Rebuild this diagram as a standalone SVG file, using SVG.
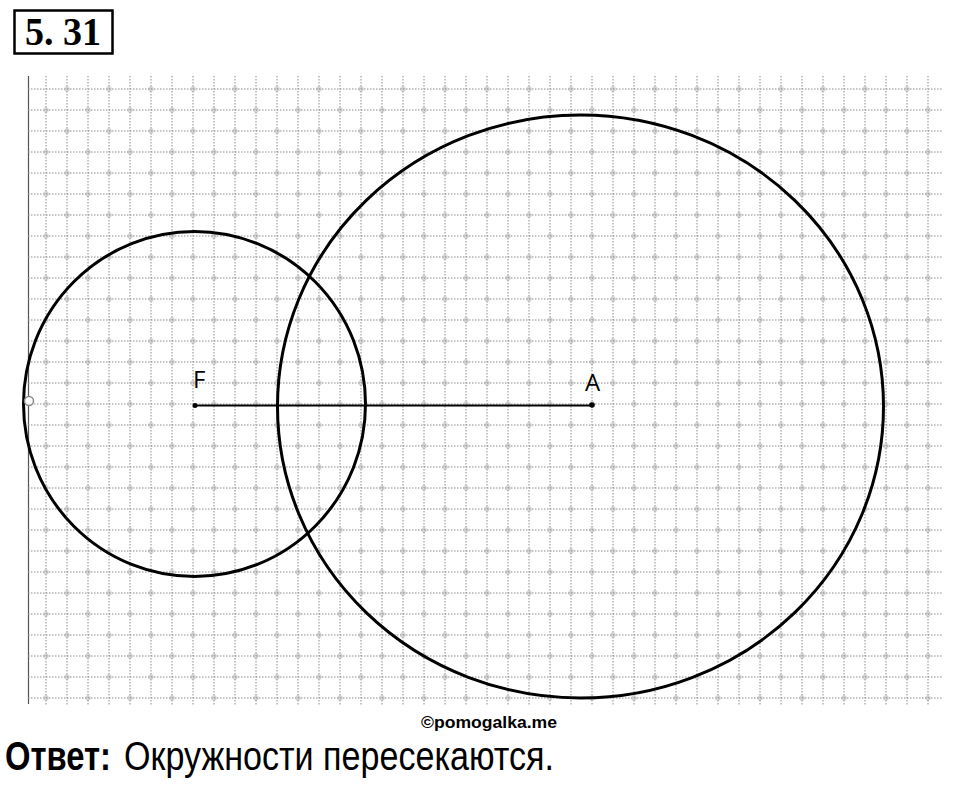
<svg xmlns="http://www.w3.org/2000/svg" width="960" height="785" viewBox="0 0 960 785">
  <defs>
    <style>
      .gv { stroke: #8a8a8a; stroke-width: 1; stroke-dasharray: 1.5 1.5; }
      .gh { stroke: #8a8a8a; stroke-width: 1; stroke-dasharray: 1.5 1.5; }
      .circ { fill: none; stroke: #000; stroke-width: 3; }
      .lbl { font-family: "Open Sans", "Noto Sans", sans-serif; font-size: 24px; fill: #000; }
      .ans { font-family: "Liberation Sans", Arial, sans-serif; font-size: 40px; fill: #000; }
    </style>
    <pattern id="dots" patternUnits="userSpaceOnUse" x="35.5" y="78.5" width="42" height="42">
      <circle cx="31.5" cy="10.5" r="2" fill="none" stroke="#a8a8a8" stroke-width="1"/>
      <circle cx="10.5" cy="31.5" r="2" fill="none" stroke="#a8a8a8" stroke-width="1"/>
    </pattern>
  </defs>
  <rect width="960" height="785" fill="#fff"/>

  <g id="title">
    <rect x="14.5" y="10.5" width="98" height="43" fill="none" stroke="#000" stroke-width="2.5"/>
    <text x="25" y="45" font-family="Liberation Serif, serif" font-weight="bold" font-size="39" textLength="76" lengthAdjust="spacingAndGlyphs">5. 31</text>
  </g>

  <g id="grid">
    <line x1="28.5" y1="76" x2="28.5" y2="704" stroke="#555" stroke-width="1.2"/>
    <g id="vlines">
      <line class="gv" x1="46" y1="76" x2="46" y2="705"/>
      <line class="gv" x1="67" y1="76" x2="67" y2="705"/>
      <line class="gv" x1="88" y1="76" x2="88" y2="705"/>
      <line class="gv" x1="109" y1="76" x2="109" y2="705"/>
      <line class="gv" x1="130" y1="76" x2="130" y2="705"/>
      <line class="gv" x1="151" y1="76" x2="151" y2="705"/>
      <line class="gv" x1="172" y1="76" x2="172" y2="705"/>
      <line class="gv" x1="193" y1="76" x2="193" y2="705"/>
      <line class="gv" x1="214" y1="76" x2="214" y2="705"/>
      <line class="gv" x1="235" y1="76" x2="235" y2="705"/>
      <line class="gv" x1="256" y1="76" x2="256" y2="705"/>
      <line class="gv" x1="277" y1="76" x2="277" y2="705"/>
      <line class="gv" x1="298" y1="76" x2="298" y2="705"/>
      <line class="gv" x1="319" y1="76" x2="319" y2="705"/>
      <line class="gv" x1="340" y1="76" x2="340" y2="705"/>
      <line class="gv" x1="361" y1="76" x2="361" y2="705"/>
      <line class="gv" x1="382" y1="76" x2="382" y2="705"/>
      <line class="gv" x1="403" y1="76" x2="403" y2="705"/>
      <line class="gv" x1="424" y1="76" x2="424" y2="705"/>
      <line class="gv" x1="445" y1="76" x2="445" y2="705"/>
      <line class="gv" x1="466" y1="76" x2="466" y2="705"/>
      <line class="gv" x1="487" y1="76" x2="487" y2="705"/>
      <line class="gv" x1="508" y1="76" x2="508" y2="705"/>
      <line class="gv" x1="529" y1="76" x2="529" y2="705"/>
      <line class="gv" x1="550" y1="76" x2="550" y2="705"/>
      <line class="gv" x1="571" y1="76" x2="571" y2="705"/>
      <line class="gv" x1="592" y1="76" x2="592" y2="705"/>
      <line class="gv" x1="613" y1="76" x2="613" y2="705"/>
      <line class="gv" x1="634" y1="76" x2="634" y2="705"/>
      <line class="gv" x1="655" y1="76" x2="655" y2="705"/>
      <line class="gv" x1="676" y1="76" x2="676" y2="705"/>
      <line class="gv" x1="697" y1="76" x2="697" y2="705"/>
      <line class="gv" x1="718" y1="76" x2="718" y2="705"/>
      <line class="gv" x1="739" y1="76" x2="739" y2="705"/>
      <line class="gv" x1="760" y1="76" x2="760" y2="705"/>
      <line class="gv" x1="781" y1="76" x2="781" y2="705"/>
      <line class="gv" x1="802" y1="76" x2="802" y2="705"/>
      <line class="gv" x1="823" y1="76" x2="823" y2="705"/>
      <line class="gv" x1="844" y1="76" x2="844" y2="705"/>
      <line class="gv" x1="865" y1="76" x2="865" y2="705"/>
      <line class="gv" x1="886" y1="76" x2="886" y2="705"/>
      <line class="gv" x1="907" y1="76" x2="907" y2="705"/>
      <line class="gv" x1="928" y1="76" x2="928" y2="705"/>
    </g>
    <g id="hlines">
      <line class="gh" x1="28" y1="89" x2="943" y2="89"/>
      <line class="gh" x1="28" y1="110" x2="943" y2="110"/>
      <line class="gh" x1="28" y1="131" x2="943" y2="131"/>
      <line class="gh" x1="28" y1="152" x2="943" y2="152"/>
      <line class="gh" x1="28" y1="173" x2="943" y2="173"/>
      <line class="gh" x1="28" y1="194" x2="943" y2="194"/>
      <line class="gh" x1="28" y1="215" x2="943" y2="215"/>
      <line class="gh" x1="28" y1="236" x2="943" y2="236"/>
      <line class="gh" x1="28" y1="257" x2="943" y2="257"/>
      <line class="gh" x1="28" y1="278" x2="943" y2="278"/>
      <line class="gh" x1="28" y1="299" x2="943" y2="299"/>
      <line class="gh" x1="28" y1="320" x2="943" y2="320"/>
      <line class="gh" x1="28" y1="341" x2="943" y2="341"/>
      <line class="gh" x1="28" y1="362" x2="943" y2="362"/>
      <line class="gh" x1="28" y1="383" x2="943" y2="383"/>
      <line class="gh" x1="28" y1="404" x2="943" y2="404"/>
      <line class="gh" x1="28" y1="425" x2="943" y2="425"/>
      <line class="gh" x1="28" y1="446" x2="943" y2="446"/>
      <line class="gh" x1="28" y1="467" x2="943" y2="467"/>
      <line class="gh" x1="28" y1="488" x2="943" y2="488"/>
      <line class="gh" x1="28" y1="509" x2="943" y2="509"/>
      <line class="gh" x1="28" y1="530" x2="943" y2="530"/>
      <line class="gh" x1="28" y1="551" x2="943" y2="551"/>
      <line class="gh" x1="28" y1="572" x2="943" y2="572"/>
      <line class="gh" x1="28" y1="593" x2="943" y2="593"/>
      <line class="gh" x1="28" y1="614" x2="943" y2="614"/>
      <line class="gh" x1="28" y1="635" x2="943" y2="635"/>
      <line class="gh" x1="28" y1="656" x2="943" y2="656"/>
      <line class="gh" x1="28" y1="677" x2="943" y2="677"/>
      <line class="gh" x1="28" y1="698" x2="943" y2="698"/>
    </g>
    <rect x="40" y="83" width="895" height="621" fill="url(#dots)"/>
  </g>

  <g id="circle-F">
    <ellipse class="circ" cx="194.5" cy="404" rx="171" ry="172.5"/>
  </g>
  <g id="circle-A">
    <ellipse class="circ" cx="580.5" cy="406.5" rx="303" ry="291.5"/>
  </g>

  <g id="connectors">
    <line x1="195" y1="405.5" x2="592" y2="405.5" stroke="#000" stroke-width="1.8"/>
  </g>

  <g id="point-F">
    <circle cx="195" cy="405.5" r="2.5" fill="#000"/>
    <text class="lbl" x="193" y="388">F</text>
  </g>
  <g id="point-A">
    <circle cx="592" cy="405" r="2.8" fill="#000"/>
    <text class="lbl" x="585" y="391">A</text>
  </g>
  <g id="point-edge">
    <circle cx="29" cy="401" r="4.5" fill="#fff" stroke="#888" stroke-width="1.5"/>
  </g>

  <g id="footer">
    <text x="421" y="728" font-family="Liberation Sans, Arial, sans-serif" font-weight="bold" font-size="17" textLength="136" lengthAdjust="spacingAndGlyphs">©pomogalka.me</text>
    <text class="ans" x="5" y="770" font-weight="bold" textLength="106" lengthAdjust="spacingAndGlyphs">Ответ:</text>
    <text class="ans" x="124" y="770" textLength="430" lengthAdjust="spacingAndGlyphs">Окружности пересекаются.</text>
  </g>
</svg>
